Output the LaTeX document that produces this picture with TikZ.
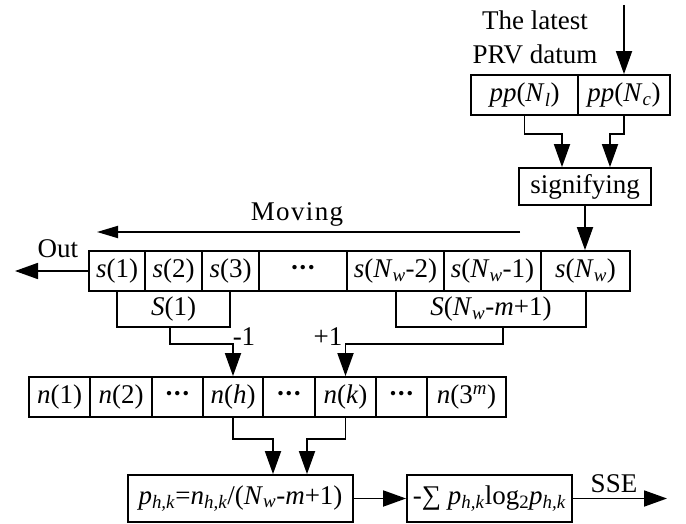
\documentclass[tikz,border=0pt]{standalone}
\usepackage{fontspec}
\setmainfont{Liberation Serif}
\usetikzlibrary{arrows.meta}
\newcommand{\vi}[1]{\textit{#1}}
\newcommand{\sbi}[1]{\textsubscript{\textit{#1}}}
\newcommand{\dts}{\textbf{·\kern-0.02em·\kern-0.02em·}}
\begin{document}
\begin{tikzpicture}[x=1pt,y=-1pt,
  font=\fontsize{27}{31}\selectfont,
  cell/.style={draw, line width=1.8pt, inner sep=0pt, minimum height=40pt},
  ln/.style={line width=1.8pt},
  arr/.style={line width=1.8pt, -{Triangle[length=23pt,width=16pt]}},
  arrthin/.style={line width=1.8pt, -{Triangle[length=21pt,width=12pt]}},
  lbl/.style={inner sep=0pt, anchor=base}]
\useasboundingbox (0,0) rectangle (686,524);

% top input
\node[lbl] (lat1) at (535,30) {The latest};
\node[lbl] (lat2) at (535,64) {PRV datum};
\node[cell, minimum width=107pt] (ppl) at (524.5,95) {\vi{pp}(\vi{N}\sbi{l})};
\node[cell, minimum width=92pt] (ppc) at (624,95) {\vi{pp}(\vi{N}\sbi{c})};
\coordinate (inA) at (624,5);
\draw[arr] (inA) -- (ppc.north);

\node[cell, minimum width=132pt, minimum height=37pt] (sig) at (585,186.5) {signifying};
\draw[arr] (ppl.south) -- ++(0,18) -| ([xshift=-23pt]sig.north);
\draw[arr] (ppc.south) -- ++(0,18) -| ([xshift=25pt]sig.north);

% moving arrow
\coordinate (mvA) at (520,232);
\coordinate (mvB) at (97,232);
\draw[arrthin] (mvA) -- (mvB);
\node[lbl] (mov) at (297,221) {\addfontfeature{LetterSpace=5}Moving};

% s row
\node[cell, minimum width=56pt] (s1) at (117,271) {\vi{s}(1)};
\node[cell, minimum width=57pt] (s2) at (173.5,271) {\vi{s}(2)};
\node[cell, minimum width=57pt] (s3) at (230.5,271) {\vi{s}(3)};
\node[cell, minimum width=88pt] (s4) at (303,271) {\dts};
\node[cell, minimum width=97pt] (s5) at (395.5,271) {\vi{s}(\vi{N}\sbi{w}-2)};
\node[cell, minimum width=97pt] (s6) at (492.5,271) {\vi{s}(\vi{N}\sbi{w}-1)};
\node[cell, minimum width=89pt] (s7) at (585.5,271) {\vi{s}(\vi{N}\sbi{w})};
\draw[arr] (sig.south) -- (sig.south |- s7.north);

% out
\coordinate (outE) at (15,271);
\draw[arr] (s1.west) -- (outE);
\node[lbl] (outl) at (58,258) {Out};

% S boxes
\node[cell, minimum width=113pt, minimum height=36pt] (S1) at (173.5,309) {\vi{S}(1)};
\node[cell, minimum width=190pt, minimum height=36pt] (SN) at (491,309) {\vi{S}(\vi{N}\sbi{w}-\vi{m}+1)};

% n row
\node[cell, minimum width=61pt] (n1) at (59.5,397) {\vi{n}(1)};
\node[cell, minimum width=62pt] (n2) at (121,397) {\vi{n}(2)};
\node[cell, minimum width=51pt] (n3) at (177.5,397) {\dts};
\node[cell, minimum width=60pt] (nh) at (233,397) {\vi{n}(\vi{h})};
\node[cell, minimum width=52pt] (n5) at (289,397) {\dts};
\node[cell, minimum width=61pt] (nk) at (345.5,397) {\vi{n}(\vi{k})};
\node[cell, minimum width=51pt] (n7) at (401.5,397) {\dts};
\node[cell, minimum width=79pt] (n8) at (466.5,397) {\vi{n}(3\textsuperscript{\vi{m}})};

\draw[arr] ([xshift=-3.5pt]S1.south) -- ++(0,16) -| (nh.north);
\draw[arr] ([xshift=12pt]SN.south) -- ++(0,16) -| (nk.north);
\node[lbl] (minus) at (244,345) {-1};
\node[lbl] (plus) at (328,345) {+1};

% bottom boxes
\node[cell, minimum width=225pt, minimum height=47pt] (pb) at (240.5,498.5) {\vi{p}\sbi{h,k}=\vi{n}\sbi{h,k}/(\vi{N}\sbi{w}-\vi{m}+1)};
\node[cell, minimum width=165pt, minimum height=47pt] (ent) at (489.5,498.5) {-∑ \vi{p}\sbi{h,k}log\textsubscript{2}\vi{p}\sbi{h,k}};
\draw[arr] (nh.south) -- ++(0,21) -| ([xshift=32.5pt]pb.north);
\draw[arr] (nk.south) -- ++(0,21) -| ([xshift=66.5pt]pb.north);
\draw[arr] (pb.east) -- (ent.west);
\coordinate (sseE) at (667,498.5);
\draw[arr] (ent.east) -- (sseE);
\node[lbl] (sse) at (614,492) {SSE};
\end{tikzpicture}
\end{document}
